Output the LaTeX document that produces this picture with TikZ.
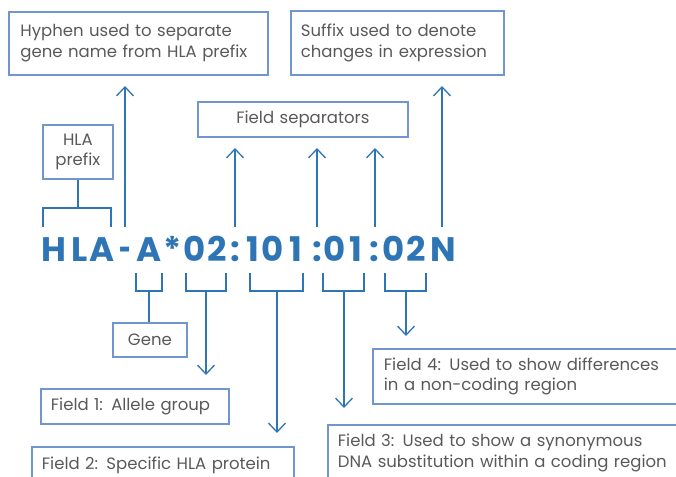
\documentclass[tikz,border=0pt]{standalone}
\usepackage{fontspec}
\setmainfont{Poppins}
\newfontfamily\bigfont{Poppins Bold}
\usetikzlibrary{arrows.meta}
\definecolor{txt}{HTML}{595959}
\definecolor{bx}{HTML}{7095CF}
\definecolor{ar}{HTML}{2E75B6}
\newcommand{\bodyfont}{\fontsize{16.5}{20.7}\selectfont}
\begin{document}
\begin{tikzpicture}[x=1pt,y=-1pt,
  tbox/.style={draw=bx, line width=1.8pt, text=txt, font=\bodyfont, anchor=north west, inner ysep=0pt, align=left},
  arr/.style={draw=ar, line width=1.3pt, -{Straight Barb[length=9pt,width=17pt,line width=1.3pt]}},
  brk/.style={draw=ar, line width=1.3pt},
  big/.style={text=ar, font=\bigfont\fontsize{34}{34}\selectfont, anchor=base, inner sep=0pt}]
\useasboundingbox (0,0) rectangle (676,476);
% boxes
\node[tbox, minimum width=259, minimum height=63, inner xsep=11.5, text width=236] (hyph) at (8,11) {Hyphen used to separate\\gene name from HLA prefix};
\node[tbox, minimum width=213, minimum height=64, inner xsep=10, text width=193] (suff) at (290,10) {Suffix used to denote\\changes in expression};
\node[tbox, minimum width=210, minimum height=35, inner xsep=10, text width=190, align=center] (sep) at (197,101) {Field separators};
\node[tbox, minimum width=70, minimum height=54, inner xsep=5, text width=60, align=center] (pref) at (42,124) {HLA\\prefix};
\node[tbox, minimum width=74, minimum height=34, inner xsep=5, text width=64, align=center] (gene) at (112,322) {Gene};
\node[tbox, minimum width=188, minimum height=35, inner xsep=10, text width=168] (f1) at (40,388) {Field 1: Allele group};
\node[tbox, minimum width=262, minimum height=36, inner xsep=10, text width=242] (f2) at (31,446) {Field 2: Specific HLA protein};
\node[tbox, minimum width=380, minimum height=56, inner xsep=10, text width=360] (f3) at (327,424) {Field 3: Used to show a synonymous\\DNA substitution within a coding region};
\node[tbox, minimum width=330, minimum height=55, inner xsep=11, text width=308] (f4) at (372,348) {Field 4: Used to show differences\\in a non-coding region};
% big code
\foreach \x/\c [count=\i] in {54.2/H,79.2/L,101.7/A,125.3/{\scalebox{0.6}[1]{-}},148.8/A,172.8/*,194.5/0,217.5/2,235.7/:,253/1,273/0,295.8/1,317.3/:,335/0,355.8/1,374/:,393.7/0,416.3/2,443.3/N}
  \node[big] (c\i) at (\x,261) {\c};
% coordinates
\coordinate (pl) at (43,227); \coordinate (pr) at (111,227);
\coordinate (ps) at (78,208);
\coordinate (hb) at (125,227); \coordinate (ht) at (125,86);
\coordinate (s1b) at (235,227); \coordinate (s1t) at (235,148);
\coordinate (s2b) at (317,227); \coordinate (s2t) at (317,148);
\coordinate (s3b) at (375,227); \coordinate (s3t) at (375,148);
\coordinate (nb) at (442,227); \coordinate (nt) at (442,86);
% upper bracket
\draw[brk] (pl) |- (ps) -| (pr);
\draw[brk] (ps) -- (pref.south -| ps);
% up arrows
\draw[arr] (hb) -- (ht);
\draw[arr] (s1b) -- (s1t);
\draw[arr] (s2b) -- (s2t);
\draw[arr] (s3b) -- (s3t);
\draw[arr] (nb) -- (nt);
% lower brackets
\foreach \l/\r/\m/\n in {136/162/149/g,186/226/206/a,250/303/277/b,323/364/344/c,385/426/406/d}{
  \coordinate (\n l) at (\l,273); \coordinate (\n r) at (\r,273); \coordinate (\n m) at (\m,291);
  \draw[brk] (\n l) |- (\n m) -| (\n r);
}
\draw[brk] (gm) -- (gene.north -| gm);
\coordinate (at) at (206,375); \coordinate (bt) at (277,433);
\coordinate (ct) at (344,408); \coordinate (dt) at (406,336);
\draw[arr] (am) -- (at);
\draw[arr] (bm) -- (bt);
\draw[arr] (cm) -- (ct);
\draw[arr] (dm) -- (dt);
\end{tikzpicture}
\end{document}
